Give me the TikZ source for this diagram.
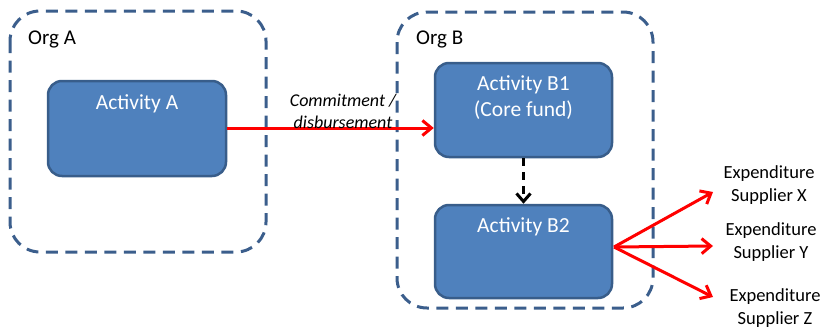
\documentclass[tikz,border=0pt]{standalone}
\usepackage{fontspec}
\setmainfont{Carlito}
\usetikzlibrary{arrows.meta}
\definecolor{actfill}{HTML}{4F81BD}
\definecolor{actline}{HTML}{385D8A}
\definecolor{orgline}{HTML}{3B5E8C}
\tikzset{
  orgbox/.style={draw=orgline, line width=3pt, dash pattern=on 12pt off 7.5pt, rounded corners=30pt},
  actbox/.style={draw=actline, fill=actfill, line width=2.5pt, rounded corners=14pt, inner sep=0pt},
  acttext/.style={text=white, font=\fontsize{21.5}{26}\selectfont, align=center, anchor=north, inner sep=0pt},
  orgtext/.style={font=\fontsize{21}{25}\selectfont, anchor=west, inner sep=0pt},
  exptext/.style={font=\fontsize{18.5}{23}\selectfont, align=center, inner sep=0pt},
  redarrow/.style={draw=red, line width=3pt, -{Straight Barb[length=9pt,width=15pt,line width=3pt]}},
  blackarrow/.style={draw=black, line width=3pt, dash pattern=on 8pt off 6pt, -{Straight Barb[length=8pt,width=14pt,line width=3pt]}},
}
\begin{document}
\begin{tikzpicture}[x=1pt,y=-1pt]
\useasboundingbox (0,0) rectangle (823,332);
% organisation boxes
\draw[orgbox] (10,11) rectangle (266,252);
\draw[orgbox] (397,12) rectangle (653,308);
\node[orgtext] (orgA) at (28,39) {Org A};
\node[orgtext] (orgB) at (416,39) {Org B};
% activities
\node[actbox, minimum width=178pt, minimum height=95pt] (A) at (137,128.5) {};
\node[acttext] (At) at (137,94) {Activity A};
\node[actbox, minimum width=177pt, minimum height=94pt] (B1) at (523.5,110) {};
\node[acttext] (B1t) at (523.5,75) {Activity B1\\(Core fund)};
\node[actbox, minimum width=177pt, minimum height=93pt] (B2) at (523.5,251.5) {};
\node[acttext] (B2t) at (523.5,217) {Activity B2};
% commitment arrow
\draw[redarrow] (A.east |- 0,128) -- (B1.west |- 0,128);
\node[exptext, font=\fontsize{18}{22}\selectfont\itshape] (cd) at (343,111) {Commitment /\\disbursement};
% B1 -> B2
\draw[blackarrow] (B1.south) -- (B2.north);
% expenditure arrows
\coordinate (src) at (614,247);
\coordinate (eX) at (713,192);
\coordinate (eY) at (713,246);
\coordinate (eZ) at (713,297);
\draw[redarrow] (src) -- (eX);
\draw[redarrow] (src) -- (eY);
\draw[redarrow] (src) -- (eZ);
\node[exptext] (X) at (769,185.5) {Expenditure\\Supplier X};
\node[exptext] (Y) at (771,242.5) {Expenditure\\Supplier Y};
\node[exptext] (Z) at (775,308.5) {Expenditure\\Supplier Z};
\end{tikzpicture}
\end{document}
